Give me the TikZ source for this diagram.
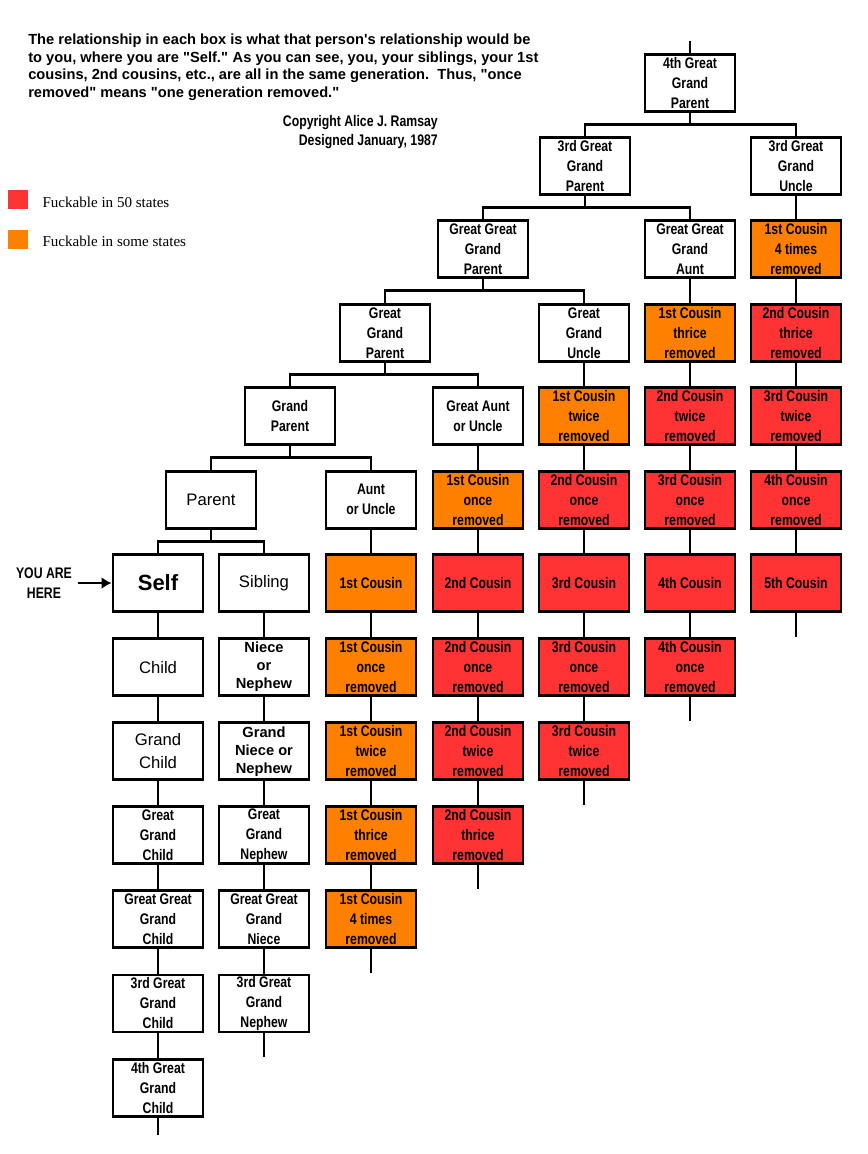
\documentclass[tikz,border=0pt]{standalone}
\usepackage{fontspec}
\setmainfont{Liberation Sans}
\newfontfamily\notefont{Liberation Sans}
\newfontfamily\narrowfont{Liberation Sans}[FakeStretch=0.8]
\newfontfamily\legendfont{Liberation Serif}
\usetikzlibrary{positioning,arrows.meta}
\definecolor{cousinred}{RGB}{255,51,51}
\definecolor{cousinorange}{RGB}{255,128,0}
% row centre: generations above Self are a little closer together
\pgfmathdeclarefunction{rowy}{1}{\pgfmathparse{583+(#1<0?83.4:84.1)*(#1)}}
\tikzset{
  box/.style={draw,line width=2.2pt,fill=white,minimum width=67.5pt,minimum height=42.75pt,
    inner sep=0pt,align=center,font=\narrowfont\bfseries\fontsize{11.5}{15}\selectfont},
  widebox/.style={box,font=\bfseries\fontsize{11}{13.5}\selectfont},
  bigbox/.style={box,font=\fontsize{12.5}{17.25}\selectfont},
  selfbox/.style={box,font=\bfseries\fontsize{16.5}{20}\selectfont},
  orangebox/.style={box,fill=cousinorange},
  redbox/.style={box,fill=cousinred},
  link/.style={line width=2.2pt},
  swatch/.style={minimum width=15pt,minimum height=14.25pt,inner sep=0pt},
  legend/.style={inner sep=0pt,yshift=-1.8pt,font=\legendfont\fontsize{11.3}{13}\selectfont},
}
\begin{document}
\begin{tikzpicture}[x=0.75pt,y=-0.75pt]
\path[use as bounding box,fill=white] (0,0) rectangle (868,1154);

% notes
\node[anchor=north west,align=left,inner sep=0pt,font=\notefont\bfseries\fontsize{11}{13.3}\selectfont] (intro) at (28,33.5)
  {The relationship in each box is what that person's relationship would be\\
   to you, where you are "Self."\ \hspace{0.5pt}As you can see, you, your siblings, your 1st\\
   cousins, 2nd cousins, etc., are all in the same generation.\ \ Thus, "once\\
   removed" means "one generation removed."};
\node[anchor=north east,align=right,inner sep=0pt,font=\narrowfont\bfseries\fontsize{11.5}{14.25}\selectfont] (credit) at (438,115)
  {Copyright Alice J. Ramsay\\Designed January, 1987};

% legend
\node[swatch,fill=cousinred] (fifty) at (18,199.5) {};
\node[legend,right=10.5pt of fifty] (fiftytext) {Fuckable in 50 states};
\node[swatch,fill=cousinorange] (some) at (18,239) {};
\node[legend,right=10.5pt of some] (sometext) {Fuckable in some states};

% ancestors
\foreach \i/\x/\sty/\txt in {1/211/bigbox/Parent, 2/290/box/{Grand\\Parent},
    3/385/box/{Great\\Grand\\Parent}, 4/483/box/{Great Great\\Grand\\Parent},
    5/585/box/{3rd Great\\Grand\\Parent}, 6/690/box/{4th Great\\Grand\\Parent}}
  \node[\sty] (P\i) at (\x,{rowy(-\i)}) {\txt};

% columns
\foreach \i/\sty/\txt in {1/selfbox/Self, 2/bigbox/Child, 3/bigbox/{Grand\\Child},
    4/box/{Great\\Grand\\Child}, 5/box/{Great Great\\Grand\\Child},
    6/box/{3rd Great\\Grand\\Child}, 7/box/{4th Great\\Grand\\Child}}
  \node[\sty] (A\i) at (158,{rowy(\i-1)}) {\txt};
\foreach \i/\sty/\txt in {1/bigbox/Sibling, 2/widebox/{Niece\\or\\Nephew},
    3/widebox/{Grand\\Niece or\\Nephew}, 4/box/{Great\\Grand\\Nephew},
    5/box/{Great Great\\Grand\\Niece}, 6/box/{3rd Great\\Grand\\Nephew}}
  \node[\sty] (B\i) at (264,{rowy(\i-1)}) {\txt};
\foreach \i/\sty/\txt in {1/box/{Aunt\\or Uncle}, 2/orangebox/1st Cousin,
    3/orangebox/{1st Cousin\\once\\removed}, 4/orangebox/{1st Cousin\\twice\\removed},
    5/orangebox/{1st Cousin\\thrice\\removed}, 6/orangebox/{1st Cousin\\4 times\\removed}}
  \node[\sty] (C\i) at (371,{rowy(\i-2)}) {\txt};
\foreach \i/\sty/\txt in {1/box/{Great Aunt\\or Uncle}, 2/orangebox/{1st Cousin\\once\\removed},
    3/redbox/2nd Cousin, 4/redbox/{2nd Cousin\\once\\removed},
    5/redbox/{2nd Cousin\\twice\\removed}, 6/redbox/{2nd Cousin\\thrice\\removed}}
  \node[\sty] (D\i) at (478,{rowy(\i-3)}) {\txt};
\foreach \i/\sty/\txt in {1/box/{Great\\Grand\\Uncle}, 2/orangebox/{1st Cousin\\twice\\removed},
    3/redbox/{2nd Cousin\\once\\removed}, 4/redbox/3rd Cousin,
    5/redbox/{3rd Cousin\\once\\removed}, 6/redbox/{3rd Cousin\\twice\\removed}}
  \node[\sty] (E\i) at (584,{rowy(\i-4)}) {\txt};
\foreach \i/\sty/\txt in {1/box/{Great Great\\Grand\\Aunt}, 2/orangebox/{1st Cousin\\thrice\\removed},
    3/redbox/{2nd Cousin\\twice\\removed}, 4/redbox/{3rd Cousin\\once\\removed},
    5/redbox/4th Cousin, 6/redbox/{4th Cousin\\once\\removed}}
  \node[\sty] (F\i) at (690,{rowy(\i-5)}) {\txt};
\foreach \i/\sty/\txt in {1/box/{3rd Great\\Grand\\Uncle}, 2/orangebox/{1st Cousin\\4 times\\removed},
    3/redbox/{2nd Cousin\\thrice\\removed}, 4/redbox/{3rd Cousin\\twice\\removed},
    5/redbox/{4th Cousin\\once\\removed}, 6/redbox/5th Cousin}
  \node[\sty] (G\i) at (796,{rowy(\i-6)}) {\txt};

% links down each column
\foreach \c/\n in {A/6,B/5,C/5,D/5,E/5,F/5,G/5}
  \foreach \i [count=\j from 2] in {1,...,\n}
    \draw[link] (\c\i.south) -- (\c\j.north);
\foreach \c in {B,C,D,E,F,G}
  \draw[link] (\c6.south) -- ++(0,24);
\draw[link] (A7.south) -- ++(0,17);

% branches
\foreach \k/\l/\r in {1/A1/B1, 2/P1/C1, 3/P2/D1, 4/P3/E1, 5/P4/F1, 6/P5/G1} {
  \draw[link] (\l.north) -- ++(0,-12) -| (\r.north);
  \draw[link] (P\k.south) -- ++(0,12);
}
\draw[link] (P6.north) -- ++(0,-12);

% you are here
\node[align=center,inner sep=0pt,font=\narrowfont\bfseries\fontsize{11.5}{15}\selectfont] (here) at (44,583) {YOU ARE\\HERE};
\draw[line width=2.2pt,-{Latex[length=7.5pt,width=9pt]},shorten <=4.5pt] (here.east) -- (A1.west);
\end{tikzpicture}
\end{document}
